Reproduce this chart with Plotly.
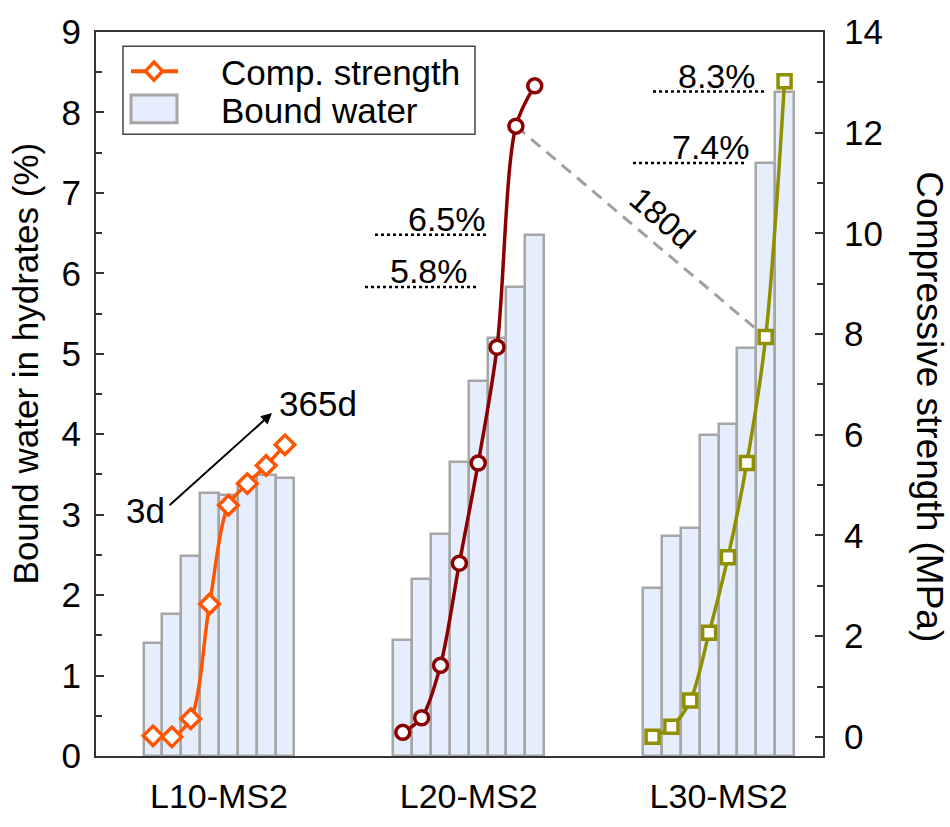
import plotly.graph_objects as go

# ---------------- data ----------------
mixes = ["L10-MS2", "L20-MS2", "L30-MS2"]
ages = ["3d", "7d", "14d", "28d", "56d", "90d", "180d", "365d"]

bound_water_L10 = [1.40, 1.77, 2.49, 3.27, 3.24, 3.37, 3.49, 3.46]
bound_water_L20 = [1.44, 2.20, 2.76, 3.65, 4.66, 5.19, 5.83, 6.48]
bound_water_L30 = [2.09, 2.74, 2.84, 3.99, 4.13, 5.07, 7.37, 8.26]

strength_L10 = [0.02, 0.00, 0.36, 2.64, 4.60, 5.03, 5.39, 5.80]
strength_L20 = [0.09, 0.38, 1.42, 3.45, 5.44, 7.74, 12.13, 12.93]
strength_L30 = [0.00, 0.20, 0.72, 2.07, 3.57, 5.44, 7.94, 13.02]

bound_water = [bound_water_L10, bound_water_L20, bound_water_L30]
strength = [strength_L10, strength_L20, strength_L30]

# ---------------- styles ----------------
FONT = "Liberation Sans, Arial, sans-serif"
line_colors = ["#ff5500", "#8b0000", "#8f8f00"]
symbols = ["diamond", "circle", "square"]
marker_sizes = [15, 14, 13]
BAR_FILL = "#e6edfc"
BAR_EDGE = "#a6a6a6"
AXIS_COLOR = "#333333"

W, H = 950, 827
PL, PR, PT, PB = 96, 823, 22, 780   # plot area in px
XR = [-6.525, 32.04]
Y1R = [0, 9]
Y2R = [-0.38, 14]
GROUP_GAP = 13.25
n_age = len(ages)


def xpos(g, i):
    return g * GROUP_GAP + i - (n_age - 1) / 2


def ux(px):
    return XR[0] + (px - PL) / (PR - PL) * (XR[1] - XR[0])


def vy(py):
    return Y1R[0] + (PB - py) / (PB - PT) * (Y1R[1] - Y1R[0])


def pxp(px):
    return (px - PL) / (PR - PL)


def pyp(py):
    return (PB - py) / (PB - PT)


fig = go.Figure()

# bars
for g, mix in enumerate(mixes):
    fig.add_trace(go.Bar(
        x=[xpos(g, i) for i in range(n_age)],
        y=bound_water[g],
        width=1.0,
        marker=dict(color=BAR_FILL, line=dict(color=BAR_EDGE, width=2.5)),
        showlegend=False,
        name="Bound water " + mix,
    ))

# dashed 180d connector (L20 -> L30 at 180d)
i180 = ages.index("180d")
fig.add_trace(go.Scatter(
    x=[xpos(1, i180), xpos(2, i180)],
    y=[strength_L20[i180], strength_L30[i180]],
    yaxis="y2", mode="lines",
    line=dict(color="#a0a0a0", width=3, dash="12px,8px"),
    showlegend=False, hoverinfo="skip",
))

# strength lines
for g, mix in enumerate(mixes):
    fig.add_trace(go.Scatter(
        x=[xpos(g, i) for i in range(n_age)],
        y=strength[g],
        yaxis="y2",
        mode="lines+markers",
        line=dict(color=line_colors[g], width=3.5, shape="spline", smoothing=0.9),
        marker=dict(symbol=symbols[g], size=marker_sizes[g], color="white",
                    line=dict(color=line_colors[g], width=3.5)),
        showlegend=False,
        name="Comp. strength " + mix,
    ))

shapes = []
annotations = []

# dotted reference lines and percentage labels
refs = [
    (bound_water_L20[7], 375, 487, 488),
    (bound_water_L20[6], 365, 477, 470),
    (bound_water_L30[6], 633, 747, 752),
    (bound_water_L30[7], 653, 765, 758),
]
for val, x0, x1, xt in refs:
    shapes.append(dict(type="line", xref="x", yref="y",
                       x0=ux(x0), x1=ux(x1), y0=val, y1=val,
                       line=dict(color="black", width=2.5, dash="dot")))
    annotations.append(dict(x=ux(xt), y=val, xref="x", yref="y",
                            text=f"{val:.1f}%", showarrow=False,
                            xanchor="right", yanchor="bottom", yshift=-5,
                            font=dict(family=FONT, size=34, color="black")))

# 3d -> 365d arrow
annotations.append(dict(x=ux(272), y=vy(421), ax=ux(168), ay=vy(519),
                        xref="x", yref="y", axref="x", ayref="y",
                        text="", showarrow=True, arrowhead=2, arrowsize=1.1,
                        arrowwidth=2, arrowcolor="black", standoff=0))
annotations.append(dict(x=ux(145), y=vy(523), xref="x", yref="y", text="3d",
                        showarrow=False, xanchor="center", yanchor="middle",
                        font=dict(family=FONT, size=35, color="black")))
annotations.append(dict(x=ux(277), y=vy(411), xref="x", yref="y", text="365d",
                        showarrow=False, xanchor="left", yanchor="middle",
                        font=dict(family=FONT, size=35, color="black")))
annotations.append(dict(x=ux(662), y=vy(216), xref="x", yref="y", text="180d",
                        showarrow=False, xanchor="center", yanchor="middle",
                        textangle=41,
                        font=dict(family=FONT, size=33, color="black")))

# axis titles
annotations.append(dict(x=pxp(25), y=pyp(369), xref="paper", yref="paper",
                        text="Bound water in hydrates (%)", showarrow=False,
                        textangle=-90, xanchor="center", yanchor="middle",
                        font=dict(family=FONT, size=35, color="black")))
annotations.append(dict(x=pxp(930), y=pyp(415), xref="paper", yref="paper",
                        text="Compressive strength (MPa)", showarrow=False,
                        textangle=90, xanchor="center", yanchor="middle",
                        font=dict(family=FONT, size=37, color="black")))

# custom legend
shapes.append(dict(type="rect", xref="paper", yref="paper",
                   x0=pxp(123), x1=pxp(475), y0=pyp(37), y1=pyp(129),
                   line=dict(color="#444444", width=1.5), fillcolor="white",
                   layer="above"))
shapes.append(dict(type="line", xref="paper", yref="paper",
                   x0=pxp(131), x1=pxp(178), y0=pyp(63), y1=pyp(63),
                   line=dict(color=line_colors[0], width=4), layer="above"))
cx, cy, hw, hh = 154, 63, 8.5, 9.5
shapes.append(dict(type="path", xref="paper", yref="paper",
                   path=(f"M {pxp(cx - hw)} {pyp(cy)} L {pxp(cx)} {pyp(cy - hh)} "
                         f"L {pxp(cx + hw)} {pyp(cy)} L {pxp(cx)} {pyp(cy + hh)} Z"),
                   line=dict(color=line_colors[0], width=3.5), fillcolor="white",
                   layer="above"))
shapes.append(dict(type="rect", xref="paper", yref="paper",
                   x0=pxp(131), x1=pxp(177), y0=pyp(88), y1=pyp(117),
                   line=dict(color=BAR_EDGE, width=3), fillcolor=BAR_FILL,
                   layer="above"))
annotations.append(dict(x=pxp(219), y=pyp(64), xref="paper", yref="paper",
                        text="Comp. strength", showarrow=False,
                        xanchor="left", yanchor="middle",
                        font=dict(family=FONT, size=35, color="black")))
annotations.append(dict(x=pxp(219), y=pyp(104), xref="paper", yref="paper",
                        text="Bound water", showarrow=False,
                        xanchor="left", yanchor="middle",
                        font=dict(family=FONT, size=35, color="black")))

fig.update_layout(
    width=W, height=H,
    margin=dict(l=PL, r=W - PR, t=PT, b=H - PB, pad=0),
    paper_bgcolor="white", plot_bgcolor="white",
    font=dict(family=FONT, color="black"),
    showlegend=False,
    bargap=0,
    xaxis=dict(
        range=XR, showgrid=False, zeroline=False,
        showline=True, linecolor=AXIS_COLOR, linewidth=2, mirror=True,
        ticks="", tickmode="array",
        tickvals=[xpos(g, (n_age - 1) / 2) for g in range(len(mixes))],
        ticktext=mixes, tickfont=dict(family=FONT, size=34, color="black"),
        ticklabelstandoff=9,
    ),
    yaxis=dict(
        range=Y1R, showgrid=False, zeroline=False,
        showline=True, linecolor=AXIS_COLOR, linewidth=2,
        ticks="inside", ticklen=8, tickwidth=2, tickcolor=AXIS_COLOR,
        tick0=0, dtick=1,
        minor=dict(ticks="inside", ticklen=6, tickwidth=1.5, tickcolor=AXIS_COLOR,
                   tick0=0, dtick=0.5),
        tickfont=dict(family=FONT, size=35, color="black"),
        ticklabelstandoff=6,
    ),
    yaxis2=dict(
        range=Y2R, overlaying="y", side="right",
        showgrid=False, zeroline=False,
        showline=True, linecolor=AXIS_COLOR, linewidth=2,
        ticks="inside", ticklen=8, tickwidth=2, tickcolor=AXIS_COLOR,
        tick0=0, dtick=2,
        minor=dict(ticks="inside", ticklen=6, tickwidth=1.5, tickcolor=AXIS_COLOR,
                   tick0=0, dtick=1),
        tickfont=dict(family=FONT, size=35, color="black"),
        ticklabelstandoff=12,
    ),
    shapes=shapes,
    annotations=annotations,
)

fig.write_html("out.html")
